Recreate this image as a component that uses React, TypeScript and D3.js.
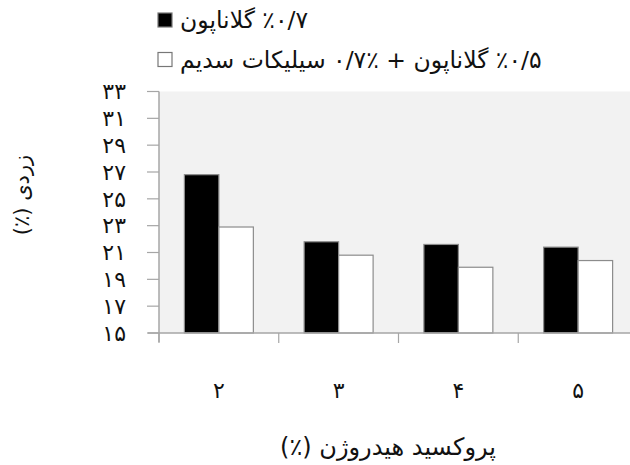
import React from "react";
import * as d3 from "d3";

const categories = ["۲", "۳", "۴", "۵"];
const seriesNames = ["٪۰/۷ گلاناپون", "٪۰/۵ گلاناپون  + ٪۰/۷ سیلیکات سدیم"];
const seriesFills = ["#000000", "#ffffff"];
const blackValues = [26.8, 21.8, 21.6, 21.4];
const whiteValues = [22.9, 20.8, 19.9, 20.4];
const yTicks = [15, 17, 19, 21, 23, 25, 27, 29, 31, 33];
const yTitle = "زردی (٪)";
const xTitle = "پروکسید هیدروژن (٪)";

const toFa = (n: number) => String(n).replace(/\d/g, (d) => "۰۱۲۳۴۵۶۷۸۹"[+d]);

export default function App() {
  const W = 630, H = 465;
  const left = 159, right = 638, top = 91.5, bottom = 333;
  const x0 = d3.scaleBand<string>().domain(categories).range([left, right]).padding(0);
  const bw = x0.bandwidth();
  const x1 = d3.scaleBand<number>().domain([0, 1]).range([bw * 0.212, bw * 0.788]).padding(0);
  const y = d3.scaleLinear().domain([15, 33]).range([bottom, top]);
  const series = [blackValues, whiteValues];
  const font = "'DejaVu Sans', sans-serif";
  const axisColor = "#a6a6a6";
  const textColor = "#111";

  return (
    <svg width={W} height={H} style={{ position: "absolute", left: 0, top: 0, background: "#fff" }} fontFamily={font}>
      <rect x={0} y={0} width={W} height={H} fill="#ffffff" />
      <rect x={left} y={top} width={W - left} height={bottom - top} fill="#f2f2f2" />
      {categories.map((c, i) =>
        series.map((vals, s) => (
          <rect
            key={c + s}
            x={(x0(c) as number) + (x1(s) as number)}
            y={y(vals[i])}
            width={x1.bandwidth()}
            height={bottom - y(vals[i])}
            fill={seriesFills[s]}
            stroke="#8c8c8c"
            strokeWidth={1.2}
          />
        ))
      )}
      {/* y axis */}
      <line x1={left} x2={left} y1={top} y2={342} stroke={axisColor} strokeWidth={1.5} />
      {yTicks.map((t) => (
        <g key={t}>
          <line x1={147} x2={left} y1={y(t)} y2={y(t)} stroke={axisColor} strokeWidth={1.2} />
          <text x={126} y={y(t)} dy="0.35em" textAnchor="end" fontSize={22} fill={textColor}>
            {toFa(t)}
          </text>
        </g>
      ))}
      {/* x axis */}
      <line x1={148} x2={W} y1={bottom} y2={bottom} stroke={axisColor} strokeWidth={1.5} />
      {categories.map((c) => (
        <g key={c}>
          <line x1={x0(c) as number} x2={x0(c) as number} y1={bottom} y2={343} stroke={axisColor} strokeWidth={1.2} />
          <text x={(x0(c) as number) + bw / 2} y={390} dy="0.35em" textAnchor="middle" fontSize={22} fill={textColor}>
            {c}
          </text>
        </g>
      ))}
      <text x={388} y={455} textAnchor="middle" fontSize={24} fill={textColor} style={{ direction: "rtl" }}>
        {xTitle}
      </text>
      <text
        transform={`translate(29,195) rotate(-90)`}
        textAnchor="middle"
        fontSize={21}
        fill={textColor}
        style={{ direction: "rtl" }}
      >
        {yTitle}
      </text>
      {/* legend */}
      {seriesNames.map((n, s) => (
        <g key={s}>
          <rect x={158} y={13 + s * 39.5} width={14} height={14} fill={seriesFills[s]} stroke="#777" strokeWidth={1.2} />
          <text x={180} y={28 + s * 39.5} textAnchor="end" fontSize={23.5} fill={textColor} style={{ direction: "rtl" }}>
            {n}
          </text>
        </g>
      ))}
    </svg>
  );
}
